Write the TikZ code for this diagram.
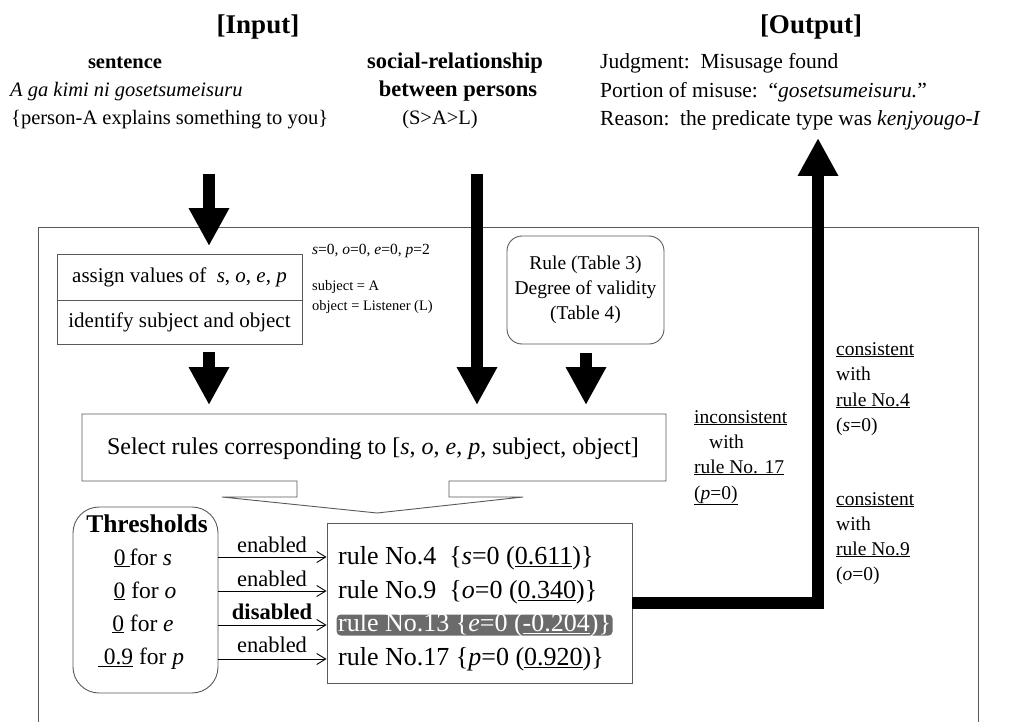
\documentclass[tikz,border=0pt]{standalone}
\usepackage{fontspec}
\setmainfont{Liberation Serif}
\usetikzlibrary{arrows.meta}
\newcommand\setfs[1]{\fontsize{#1}{#1}\selectfont}
\begin{document}
\begin{tikzpicture}[x=1pt,y=-1pt,
  txt/.style={inner sep=0pt, text height=7pt, text depth=2pt, yshift=-4.5pt},
  lbl/.style={txt, anchor=west},
  frame/.style={draw=black!65, line width=0.9pt},
  box/.style={draw=black!65, line width=0.9pt},
  bigarrow/.style={line width=12.5pt, -{Triangle[width=38pt,length=38pt]}},
  thinarrow/.style={line width=0.9pt, -{Straight Barb[length=9pt,width=11pt]}},
  hdr/.style={txt, font=\bfseries\setfs{27}},
  io/.style={txt, font=\setfs{20.5}},
  oo/.style={lbl, font=\setfs{21.5}},
  side/.style={lbl, font=\setfs{19.5}},
  rowt/.style={lbl, font=\setfs{26}},
  thrt/.style={txt, font=\setfs{23.5}},
  en/.style={txt, font=\setfs{22.5}}
]
\useasboundingbox (0,0) rectangle (1019,722);

% ---------- Input ----------
\node[hdr] (inT) at (258,27) {[Input]};
\node[io, font=\bfseries\setfs{20.5}] (sent) at (125,62) {sentence};
\node[io, anchor=west, font=\itshape\setfs{20.5}] (sja) at (10,90) {A ga kimi ni gosetsumeisuru};
\node[io, anchor=west] (sen) at (11,118) {\{person-A explains something to you\}};
\node[io, font=\bfseries\setfs{22.5}] (soc) at (455,62) {social-relationship};
\node[io, font=\bfseries\setfs{22.5}] (btw) at (458,90) {between persons};
\node[io] (rel) at (440,118) {(S>A>L)};

% ---------- Output ----------
\node[hdr] (outT) at (811,27) {[Output]};
\node[oo] (jud) at (600,62) {Judgment:\ \ Misusage found};
\node[oo] (por) at (600,91) {Portion of misuse:\ \ “\textit{gosetsumeisuru.}”};
\node[oo] (rea) at (600,119) {Reason:\ \ the predicate type was \textit{kenjyougo-I}};

% ---------- frame ----------
\draw[frame] (38,722) -- (38,227) -- (978,227) -- (978,722);

% ---------- assign / identify ----------
\node[box, minimum width=245pt, minimum height=46pt, inner sep=0pt, font=\setfs{21}] (assign) at (179.5,277)
  {assign values of\ \ \textit{s}, \textit{o}, \textit{e}, \textit{p}};
\node[box, minimum width=245pt, minimum height=44pt, inner sep=0pt, font=\setfs{21}] (ident) at (179.5,322)
  {identify subject and object};
\node[lbl, font=\setfs{15.5}] (vals) at (312,247) {\textit{s}=0, \textit{o}=0, \textit{e}=0, \textit{p}=2};
\node[lbl, font=\setfs{14.5}] (subj) at (312,283) {subject = A};
\node[lbl, font=\setfs{14.5}] (obj) at (312,303) {object = Listener (L)};

% ---------- Rule box ----------
\node[box, rounded corners=15pt, minimum width=157pt, minimum height=108pt, inner sep=0pt,
      align=center, font=\fontsize{19.5}{25}\selectfont] (rulebox) at (585.5,290)
  {Rule (Table 3)\\Degree of validity\\(Table 4)};

% ---------- Select box (callout) ----------
\draw[box, fill=white, line join=miter]
  (82,414) -- (666,414) -- (666,481) -- (449,481) -- (449,497) -- (523,497)
  -- (377,513) -- (222,497) -- (297,497) -- (297,481) -- (82,481) -- cycle;
\node[txt, font=\setfs{24}] (select) at (373,447)
  {Select rules corresponding to [\textit{s}, \textit{o}, \textit{e}, \textit{p}, subject, object]};

% ---------- big arrows ----------
\coordinate (a1s) at (209,174); \coordinate (a1e) at (209,246);
\coordinate (a2s) at (477,174); \coordinate (a2e) at (477,405);
\coordinate (a3s) at (209,352); \coordinate (a3e) at (209,405);
\coordinate (a4s) at (586,353); \coordinate (a4e) at (586,405);
\draw[bigarrow] (a1s) -- (a1e);
\draw[bigarrow] (a2s) -- (a2e);
\draw[bigarrow] (a3s) -- (a3e);
\draw[bigarrow] (a4s) -- (a4e);

% ---------- Thresholds ----------
\node[box, rounded corners=26pt, minimum width=145pt, minimum height=186pt] (thr) at (145.5,600) {};
\node[txt, font=\bfseries\setfs{25.5}] (thrT) at (147,525) {Thresholds};
\node[thrt] (t1) at (143,558) {\underline{0\,}for \textit{s}};
\node[thrt] (t2) at (145,591) {\underline{0}\ for \textit{o}};
\node[thrt] (t3) at (143,624) {\underline{0}\ for \textit{e}};
\node[thrt] (t4) at (141,657) {\underline{\hspace{6pt}0.9}\ for \textit{p}};

% ---------- Rules ----------
\node[box, minimum width=305pt, minimum height=160pt] (rules) at (479.5,603) {};
\node[rowt] (r1) at (338,557) {rule No.4\ \ \{\textit{s}=0 (\underline{0.611})\}};
\node[rowt] (r2) at (338,591) {rule No.9\ \ \{\textit{o}=0 (\underline{0.340})\}};
\node[rowt, fill=black!58, text=white, rounded corners=4pt, inner xsep=1.5pt, inner ysep=0pt,
      text height=17pt, text depth=4pt] (r3) at (336.5,620.5)
  {rule No.13 \{\textit{e}=0 (\underline{-0.204})\}};
\node[rowt] (r4) at (338,658) {rule No.17 \{\textit{p}=0 (\underline{0.920})\}};

\draw[thinarrow] (thr.east |- 0,557) -- (rules.west |- 0,557);
\draw[thinarrow] (thr.east |- 0,591) -- (rules.west |- 0,591);
\draw[thinarrow] (thr.east |- 0,625) -- (rules.west |- 0,625);
\draw[thinarrow] (thr.east |- 0,659) -- (rules.west |- 0,659);
\node[en] (e1) at (272,545) {enabled};
\node[en] (e2) at (272,579) {enabled};
\node[en, font=\bfseries\setfs{22.5}] (e3) at (272,612) {disabled};
\node[en] (e4) at (272,645) {enabled};

% ---------- output arrow ----------
\coordinate (otip) at (818,138);
\draw[bigarrow, line join=miter] (rules.east) -| (otip);

% ---------- side notes ----------
\node[side] (i1) at (694,416) {\underline{inconsistent}};
\node[side] (i2) at (709,441) {with};
\node[side] (i3) at (694,466) {\underline{rule No. 17}};
\node[side] (i4) at (694,492) {\underline{(\textit{p}=0)}};

\node[side] (c1) at (836,348) {\underline{consistent}};
\node[side] (c2) at (836,373) {with};
\node[side] (c3) at (836,399) {\underline{rule No.4}};
\node[side] (c4) at (836,424) {(\textit{s}=0)};

\node[side] (d1) at (836,498) {\underline{consistent}};
\node[side] (d2) at (836,523) {with};
\node[side] (d3) at (836,548) {\underline{rule No.9}};
\node[side] (d4) at (836,573) {(\textit{o}=0)};
\end{tikzpicture}
\end{document}
